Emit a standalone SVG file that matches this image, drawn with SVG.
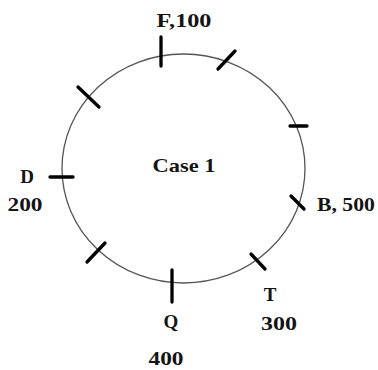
<svg xmlns="http://www.w3.org/2000/svg" width="378" height="370" viewBox="0 0 378 370">
<style>
.lbl{font-family:"Liberation Serif","Times New Roman",serif;font-weight:bold;font-size:19px;fill:#141414;text-anchor:middle}
.tick{stroke:#000;stroke-width:3.3;stroke-linecap:round}
.ring{fill:none;stroke:#555;stroke-width:1.3}
</style>
<rect width="378" height="370" fill="#fff"/>
<g id="ring"><ellipse class="ring" cx="183.5" cy="168.5" rx="121.5" ry="114.5"/></g>
<g id="ticks">
<line class="tick" x1="161" y1="37" x2="161" y2="66"/>
<line class="tick" x1="218" y1="69" x2="235" y2="51"/>
<line class="tick" x1="78" y1="87" x2="99" y2="107"/>
<line class="tick" x1="290" y1="126" x2="307" y2="126"/>
<line class="tick" x1="50" y1="177" x2="73" y2="177"/>
<line class="tick" x1="291" y1="196" x2="304" y2="209"/>
<line class="tick" x1="87" y1="262" x2="105" y2="243"/>
<line class="tick" x1="172" y1="270" x2="172" y2="302"/>
<line class="tick" x1="251" y1="254" x2="265" y2="269"/>
</g>
<g id="F"><text class="lbl" x="184" y="27" textLength="55" lengthAdjust="spacingAndGlyphs">F,100</text></g>
<g id="case"><text class="lbl" x="184" y="172" textLength="63" lengthAdjust="spacingAndGlyphs">Case 1</text></g>
<g id="D"><text class="lbl" x="27" y="183">D</text><text class="lbl" x="25" y="211" textLength="35" lengthAdjust="spacingAndGlyphs">200</text></g>
<g id="B"><text class="lbl" x="346" y="211" textLength="58" lengthAdjust="spacingAndGlyphs">B, 500</text></g>
<g id="T"><text class="lbl" x="270" y="301">T</text><text class="lbl" x="279" y="330" textLength="36" lengthAdjust="spacingAndGlyphs">300</text></g>
<g id="Q"><text class="lbl" x="171" y="328">Q</text><text class="lbl" x="166" y="365" textLength="35" lengthAdjust="spacingAndGlyphs">400</text></g>
</svg>
